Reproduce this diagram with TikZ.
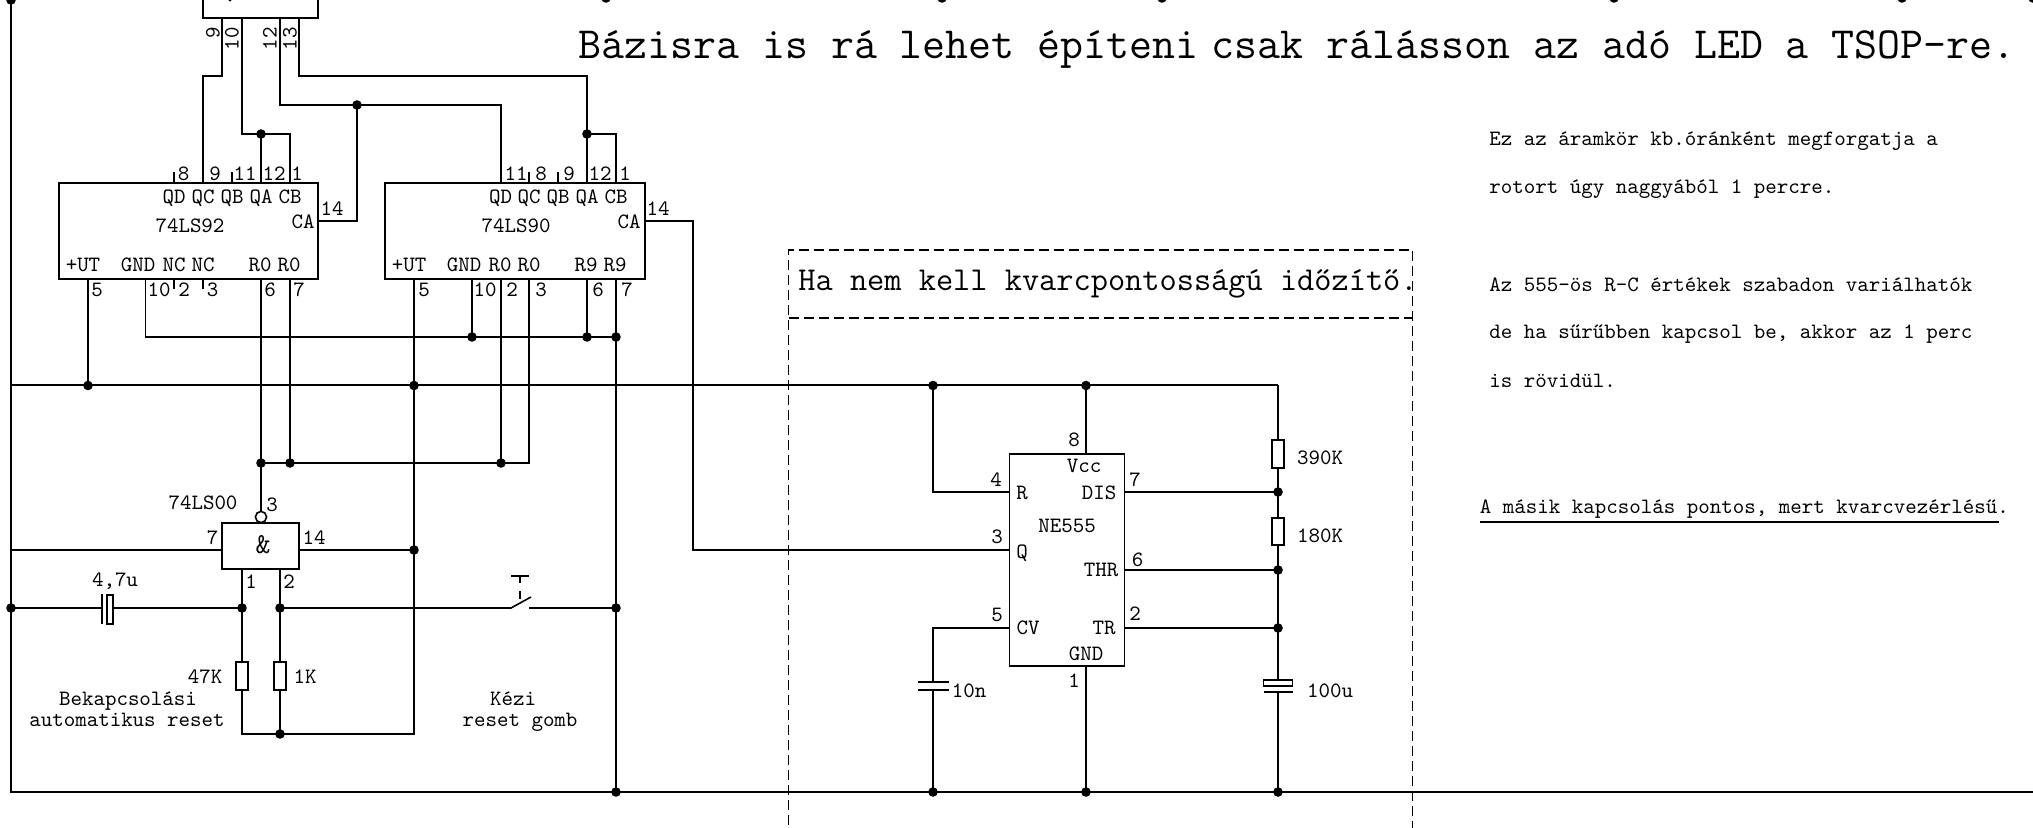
\documentclass[tikz,border=0pt]{standalone}
\usepackage{tikz}

\tikzset{
    wire/.style={line width=0.8pt},
    rail/.style={line width=1pt},
    frame/.style={line width=0.7pt, dash pattern=on 5pt off 2.5pt},
    lbl/.style={font=\ttfamily\fontsize{10.95}{12}\selectfont, inner sep=0pt, text height=8pt, text depth=1.4pt},
    big/.style={font=\ttfamily\fontsize{22.3}{24}\selectfont, inner sep=0pt, anchor=base west},
    mid/.style={font=\ttfamily\fontsize{16.7}{20}\selectfont, inner sep=0pt, anchor=base west},
    ic/.style={draw, line width=0.8pt, inner sep=0pt, minimum width=#1},
    res/.style={draw, line width=0.8pt, inner sep=0pt, minimum width=6pt, minimum height=14pt},
}

\begin{document}
\begin{tikzpicture}[x=0.5pt, y=-0.5pt]

\useasboundingbox (0,0) rectangle (2033,828);

% chips
\node [ic=57.5pt, minimum height=25pt] (top)  at (260.5,-7) {};
\node [ic=129.5pt, minimum height=48pt] (u92) at (188.5,231) {};
\node [ic=130pt, minimum height=48pt]   (u90) at (515,231) {};
\node [ic=38.5pt, minimum height=23pt]  (nand) at (260.5,546) {};
\node [ic=57.5pt, minimum height=106pt] (u555) at (1067,560) {};
\node [draw, circle, line width=0.8pt, inner sep=0pt, minimum size=5.6pt] (inv) at (261,517) {};

% pins
\foreach \i/\x in {9/222,10/242,12/280,13/299}
    \coordinate (T\i) at (\x,18);
\foreach \i/\x in {8/174,9/203,11/232,12/261,1/290}
    \coordinate (A\i) at (\x,183);
\foreach \i/\x in {5/88,10/145.5,2/174,3/203,6/261,7/290}
    \coordinate (a\i) at (\x,279);
\foreach \i/\x in {11/501,8/529,9/558,12/587,1/616}
    \coordinate (B\i) at (\x,183);
\foreach \i/\x in {5/414,10/472,2/501,3/529,6/587,7/616}
    \coordinate (b\i) at (\x,279);
\coordinate (A14) at (318,221);
\coordinate (B14) at (645,221);
\coordinate (G7) at (222,550);
\coordinate (G14) at (299,550);
\coordinate (G1) at (242,569);
\coordinate (G2) at (280,569);
\coordinate (C8) at (1086,454);
\coordinate (C1) at (1086,666);
\coordinate (C4) at (1009,492);
\coordinate (C3) at (1009,550);
\coordinate (C5) at (1009,628);
\coordinate (C7) at (1125,492);
\coordinate (C6) at (1125,570);
\coordinate (C2) at (1125,628);

% stubs
\foreach \i/\x in {t8/A8,t11/A11,u8/B8,u9/B9}
    \draw [wire] (\x) -- ++(0,-11);
\foreach \x in {a2,a3}
    \draw [wire] (\x) -- ++(0,10);

% junctions
\coordinate (0) at (11,0);
\coordinate (1) at (606,-2);
\coordinate (2) at (942,-2);
\coordinate (3) at (1162,-2);
\coordinate (4) at (1614,-2);
\coordinate (5) at (1902,-2);
\coordinate (6) at (2033,-2);
\coordinate (7) at (261,134);
\coordinate (8) at (357,105);
\coordinate (9) at (587,134);
\coordinate (10) at (472,337);
\coordinate (11) at (587,337);
\coordinate (12) at (616,337);
\coordinate (13) at (88,385.5);
\coordinate (14) at (414,385.5);
\coordinate (15) at (933,385.5);
\coordinate (16) at (1086,385.5);
\coordinate (17) at (261,463);
\coordinate (18) at (290,463);
\coordinate (19) at (501,463);
\coordinate (20) at (414,550);
\coordinate (21) at (11,608);
\coordinate (22) at (242,608);
\coordinate (23) at (280,608);
\coordinate (24) at (616,608);
\coordinate (25) at (280,734);
\coordinate (26) at (11,792);
\coordinate (27) at (616,792);
\coordinate (28) at (933,792);
\coordinate (29) at (1086,792);
\coordinate (30) at (1278,792);
\coordinate (31) at (1278,492);
\coordinate (32) at (1278,570);
\coordinate (33) at (1278,628);

\foreach \i in {0,...,25,27,28,...,33}
    \fill (\i) circle (2.4pt);
\fill (230,0) circle (0.8pt);

% rails
\coordinate (railL) at (11,385.5);
\coordinate (railR) at (1278,385.5);
\coordinate (railE) at (2033,792);
\draw [rail] (0) -- (26) -- (railE);
\draw [rail] (railL) -- (railR);

% parts
\node [res] (r47)  at (242,676) {};
\node [res] (r1k)  at (280,676) {};
\node [res] (r390) at (1278,454) {};
\node [res, minimum height=13.5pt] (r180) at (1278,531.5) {};
\node [draw, line width=0.8pt, inner sep=0pt, minimum width=3pt, minimum height=14.5pt] (c47) at (110,609.5) {};
\node [draw, line width=0.8pt, inner sep=0pt, minimum width=14.5pt, minimum height=3.2pt] (c100) at (1278,683) {};

% wires between the chips
\draw [wire] (T9) |- (203,76) -- (A9);
\draw [wire] (T10) |- (A1 |- 7) -- (A1);
\draw [wire] (7) -- (A12);
\draw [wire] (T12) |- (B11 |- 8) -- (B11);
\draw [wire] (8) |- (A14);
\draw [wire] (T13) |- (9 |- 0,76) -- (B12);
\draw [wire] (9) -| (B1);
\draw [wire] (a10) |- (12);
\draw [wire] (a5) -- (13);
\draw [wire] (a6) -- (17);
\draw [wire] (a7) -- (18);
\draw [wire] (b10) -- (10);
\draw [wire] (b6) -- (11);
\draw [wire] (b7) -- (27);
\draw [wire] (b2) -- (19);
\draw [wire] (b3) |- (17);
\draw [wire] (b5) -- (14) -- (20) |- (25);
\draw [wire] (17) -- (inv);
\draw [wire] (25) -| (r47.south);
\draw [wire] (G1) -- (r47.north);
\draw [wire] (G2) -- (r1k.north);
\draw [wire] (r1k.south) -- (25);
\draw [wire] (G7) -| (21);
\draw [wire] (G14) -- (20);
\draw [wire] (B14) -| (693,550) -- (C3);

% 4,7u and the button
\coordinate (k1) at (102,594);
\coordinate (k2) at (102,624);
\coordinate (s1) at (511,608);
\coordinate (s2) at (531,597);
\coordinate (s3) at (529,608);
\coordinate (s4) at (511,576);
\coordinate (s5) at (529,576);
\coordinate (s6) at (520,576);
\coordinate (s7) at (520,583);
\coordinate (s8) at (520,591);
\coordinate (s9) at (520,599);
\draw [wire] (k1) -- (k2);
\draw [wire] (21) -- (102,608);
\draw [wire] (c47.east |- 22) -- (22);
\draw [wire] (23) -- (s1) -- (s2);
\draw [wire] (s3) -- (24);
\draw [wire] (s4) -- (s5);
\draw [wire] (s6) -- (s7);
\draw [wire] (s8) -- (s9);

% around the 555
\coordinate (e1) at (918,682);
\coordinate (e2) at (949,682);
\coordinate (e3) at (918,690);
\coordinate (e4) at (949,690);
\coordinate (e5) at (1264,692);
\coordinate (e6) at (1293,692);
\draw [wire] (15) |- (C4);
\draw [wire] (16) -- (C8);
\draw [wire] (C1) -- (29);
\draw [wire] (C7) -- (31);
\draw [wire] (C6) -- (32);
\draw [wire] (C2) -- (33);
\draw [wire] (C5) -| (933,682);
\draw [wire] (933,690) -- (28);
\draw [wire] (e1) -- (e2);
\draw [wire] (e3) -- (e4);
\draw [wire] (railR) -- (r390.north);
\draw [wire] (r390.south) -- (r180.north);
\draw [wire] (r180.south) -- (c100.north);
\draw [wire] (e5) -- (e6);
\draw [wire] (1278,692) -- (30);

% dashed frame
\coordinate (d1) at (788.5,250);
\coordinate (d2) at (1412.5,250);
\coordinate (d3) at (788.5,318);
\coordinate (d4) at (1412.5,318);
\coordinate (d5) at (788.5,840);
\coordinate (d6) at (1412.5,840);
\draw [frame] (d5) -- (d1) -- (d2) -- (d6);
\draw [frame] (d3) -- (d4);

% texts in the chips
\foreach \t/\x in {QD/174,QC/203,QB/232,QA/261,CB/290}
    \node [lbl] (n92\t) at (\x,197) {\t};
\foreach \t/\x in {QD/500.5,QC/529,QB/558,QA/587,CB/616}
    \node [lbl] (n90\t) at (\x,197) {\t};
\foreach \i/\t/\x in {1/+UT/83,2/GND/138,3/NC/174,4/NC/203,5/R0/260,6/R0/289}
    \node [lbl] (f92\i) at (\x,265) {\t};
\foreach \i/\t/\x in {1/+UT/409,2/GND/464,3/R0/500,4/R0/529,5/R9/586,6/R9/615}
    \node [lbl] (f90\i) at (\x,265) {\t};
\node [lbl] (n92) at (190,226) {74LS92};
\node [lbl] (n90) at (516,226) {74LS90};
\node [lbl] (ca92) at (303,222) {CA};
\node [lbl] (ca90) at (629,222) {CA};
\node [lbl] (n555) at (1067,526) {NE555};
\foreach \t/\x/\y in {Vcc/1084/466,R/1022/493,DIS/1099/493,Q/1022/552,THR/1101/570,CV/1028/628,TR/1104/628,GND/1086/654}
    \node [lbl] (f\t) at (\x,\y) {\t};
\node [font=\ttfamily\fontsize{14.5}{15}\selectfont, inner sep=0pt] (amp) at (263,545) {\&};

% pin numbers
\foreach \i/\t/\x in {1/8/183.5,2/9/215,3/11/245,4/12/274,5/1/297,6/11/516,7/8/541,8/9/569,9/12/600,10/1/625}
    \node [lbl] (k\i) at (\x,174) {\t};
\foreach \i/\t/\x in {1/5/97,2/10/159,3/2/184,4/3/212.5,5/6/270,6/7/299,7/5/424,8/10/485,9/2/512,10/3/541,11/6/598,12/7/627}
    \node [lbl] (m\i) at (\x,290) {\t};
\foreach \i/\x/\y in {9/213/33,10/232/39,12/270/39,13/290/39}
    \node [lbl, rotate=90] (l\i) at (\x,\y) {\i};
\node [lbl] (l14a) at (332,209) {14};
\node [lbl] (l14b) at (658,209) {14};
\foreach \i/\t/\x/\y in {1/3/272/505,2/7/212.5/538,3/14/314/538,4/1/251/582,5/2/289/582,6/8/1074/440,7/4/996/480,8/7/1135/480,9/3/997/537,10/6/1137.5/560,11/5/997/615,12/2/1135/614,13/1/1074/681}
    \node [lbl] (q\i) at (\x,\y) {\t};

% part values
\node [lbl] (v00)  at (203,503) {74LS00};
\node [lbl] (v47u) at (115,580) {4,7u};
\node [lbl] (v47)  at (205,677) {47K};
\node [lbl] (v1k)  at (305,677) {1K};
\node [lbl] (v10n) at (969,691) {10n};
\node [lbl] (v390) at (1320,458) {390K};
\node [lbl] (v180) at (1320,536) {180K};
\node [lbl] (v100) at (1330,691) {100u};

% notes
\node [lbl] (t1) at (128,699) {Bekapcsolási};
\node [lbl] (t2) at (127,720) {automatikus reset};
\node [lbl] (t3) at (513,699) {Kézi};
\node [lbl] (t4) at (520,720) {reset gomb};
\node [big] (h1) at (578,59) {Bázisra is rá lehet építeni\hspace{-0.22em} csak rálásson az adó LED a TSOP-re.};
\node [mid] (h2) at (798,291) {Ha nem kell kvarcpontosságú időzítő.};
\foreach \i/\t/\y in {1/Ez az áramkör kb.óránként megforgatja a/139,2/rotort úgy naggyából 1 percre./187,3/Az 555-ös R-C értékek szabadon variálhatók/284.5,4/de ha sűrűbben kapcsol be{,} akkor az 1 perc/332,5/is rövidül./381}
    \node [lbl, anchor=west] (p\i) at (1489,\y) {\t};
\node [lbl, anchor=west] (p6) at (1479.5,506.5) {A másik kapcsolás pontos, mert kvarcvezérlésű.};
\coordinate (u1) at (1479.5,522);
\coordinate (u2) at (1999,522);
\draw [rail] (u1) -- (u2);

\end{tikzpicture}
\end{document}
